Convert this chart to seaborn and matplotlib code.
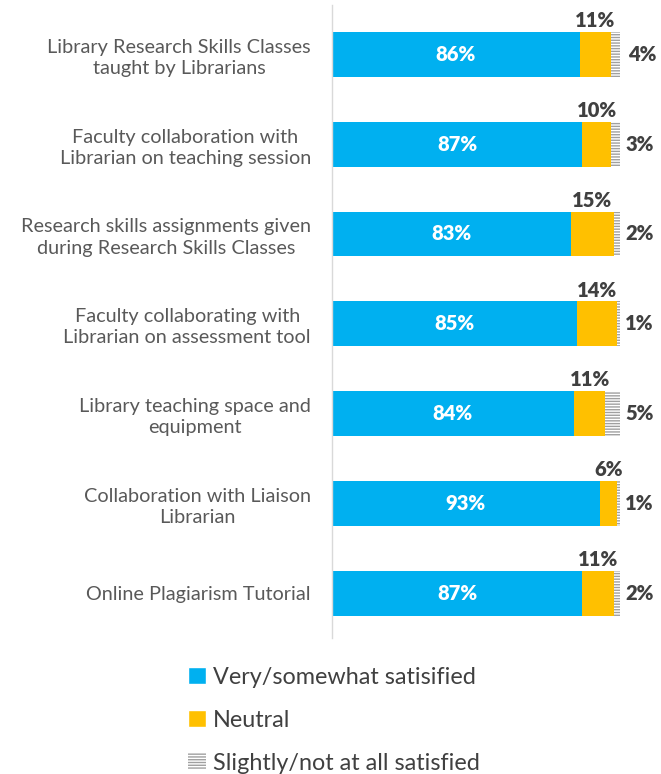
import seaborn as sns
import matplotlib.pyplot as plt
import matplotlib.patches as mpatches
import pandas as pd
import numpy as np

# survey items and responses (%)
items = [
    "Library Research Skills Classes\ntaught by Librarians",
    "Faculty collaboration with\nLibrarian on teaching session",
    "Research skills assignments given\nduring Research Skills Classes",
    "Faculty collaborating with\nLibrarian on assessment tool",
    "Library teaching space and\nequipment",
    "Collaboration with Liaison\nLibrarian",
    "Online Plagiarism Tutorial",
]
satisfied = [86, 87, 83, 85, 84, 93, 87]
neutral = [11, 10, 15, 14, 11, 6, 11]
not_satisfied = [4, 3, 2, 1, 5, 1, 2]

df = pd.DataFrame({"Item": items, "Satisfied": satisfied,
                   "Neutral": neutral, "Not": not_satisfied})
df["cum2"] = df["Satisfied"] + df["Neutral"]
df["cum3"] = df["cum2"] + df["Not"]

BLUE = "#00B0F0"
GOLD = "#FFC000"
HATCH = "#A0A0A0"
TXT = "#595959"
VAL = "#404040"

sns.set_theme(style="white")
plt.rcParams["font.family"] = ["Lato", "DejaVu Sans"]
plt.rcParams["hatch.linewidth"] = 1.0
plt.rcParams["hatch.color"] = HATCH

fig = plt.figure(figsize=(6.61, 7.74), dpi=100)
ax = fig.add_axes([0.502, 0.1757, 0.4357, 0.8178])

# stacked bars: draw cumulative layers back to front
sns.barplot(data=df, y="Item", x="cum3", color="white", width=0.5,
            hatch="------", edgecolor=HATCH, linewidth=0, saturation=1, ax=ax)
sns.barplot(data=df, y="Item", x="cum2", color=GOLD, width=0.5,
            linewidth=0, saturation=1, ax=ax)
sns.barplot(data=df, y="Item", x="Satisfied", color=BLUE, width=0.5,
            linewidth=0, saturation=1, ax=ax)

for i, row in df.iterrows():
    ax.text(row["Satisfied"] / 2, i, f"{row['Satisfied']}%", color="white",
            fontsize=14.5, fontweight="heavy", ha="center", va="center")
    ax.text(row["Satisfied"] + row["Neutral"] / 2, i - 0.27, f"{row['Neutral']}%",
            color=VAL, fontsize=14.5, fontweight="heavy", ha="center", va="bottom")
    ax.annotate(f"{row['Not']}%", (row["cum3"], i), xytext=(4, 0),
                textcoords="offset points", color=VAL, fontsize=14.5,
                fontweight="heavy", ha="left", va="center", annotation_clip=False)

ax.set_xlim(0, 100)
ax.set_ylim(6.5, -0.55)
ax.set_xlabel("")
ax.set_ylabel("")
ax.set_xticks([])
ax.tick_params(axis="y", length=0, pad=15, labelsize=14.3, labelcolor=TXT)
for lab in ax.get_yticklabels():
    lab.set_multialignment("center")
    lab.set_linespacing(1.3)

for s in ["top", "right", "bottom"]:
    ax.spines[s].set_visible(False)
ax.spines["left"].set_color("#D9D9D9")
ax.spines["left"].set_linewidth(1)

handles = [
    mpatches.Patch(facecolor=BLUE, label="Very/somewhat satisified"),
    mpatches.Patch(facecolor=GOLD, label="Neutral"),
    mpatches.Patch(facecolor="white", hatch="------", edgecolor=HATCH,
                   linewidth=0, label="Slightly/not at all satisfied"),
]
fig.legend(handles=handles, loc="upper left", bbox_to_anchor=(0.253, 0.166),
           frameon=False, fontsize=16.8, labelcolor="#404040",
           handlelength=0.75, handleheight=0.75, handletextpad=0.3,
           labelspacing=0.95)

fig.savefig("out.png", dpi=100)
